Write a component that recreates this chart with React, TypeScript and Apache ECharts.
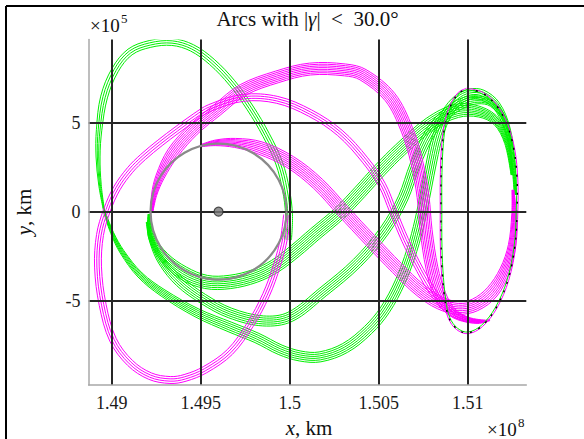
import React, { useEffect, useRef } from "react";
import * as echarts from "echarts";

type Pt = [number, number];

// x values in units of 1e5 km (axis shows them in 1e8 km), y values in 1e5 km
const xRange: Pt = [1488.7, 1513.29];
const yRange: Pt = [-9.74, 9.67];
const xTickValues = [1490, 1495, 1500, 1505, 1510];
const xTickLabels = ["1.49", "1.495", "1.5", "1.505", "1.51"];
const yTickValues = [-5, 0, 5];
const yTickLabels = ["-5", "0", "5"];

const earthPosition: Pt = [1496.0, 0];
const moonOrbitRadius = 3.82;

// magenta arcs
const magentaArcHigh: Pt[] = [
  [1492.26, -0.02], [1492.38, 0.94], [1492.71, 1.95], [1493.44, 3.3], [1494.57, 4.59],
  [1495.92, 5.71], [1497.38, 6.84], [1499.29, 7.57], [1501.14, 8.01], [1503.11, 7.96],
  [1504.12, 7.69], [1505.63, 6.44], [1506.59, 4.59], [1507.15, 2.74], [1507.49, 0.83],
  [1507.66, -1.03], [1507.99, -3.17], [1508.44, -4.68], [1509.12, -5.64], [1510.02, -6.08],
  [1510.97, -6.15],
];
const magentaArcLoop: Pt[] = [
  [1499.85, -0.19], [1499.68, -1.48], [1499.29, -2.99], [1498.67, -4.68], [1497.77, -6.36],
  [1496.64, -7.88], [1495.24, -8.88], [1494.12, -9.34], [1493.28, -9.46], [1492.15, -9.24],
  [1491.03, -8.5], [1490.07, -7.2], [1489.49, -5.24], [1489.23, -3.11], [1489.34, -1.31],
  [1489.74, 0.1], [1490.3, 1.33], [1491.03, 2.34], [1491.76, 3.07], [1492.71, 3.86],
  [1493.67, 4.59], [1494.68, 5.32], [1495.52, 5.83], [1497.38, 6.39], [1499.29, 6.28],
  [1501.14, 5.54], [1502.82, 4.42], [1504.23, 2.9], [1505.19, 1.5], [1505.8, 0.04],
  [1506.48, -1.59], [1507.32, -3.28], [1508.16, -4.68], [1508.89, -5.52], [1509.68, -5.97],
  [1510.58, -6.2], [1511.25, -6.09],
];
const magentaArcLow: Pt[] = [
  [1494.96, 3.69], [1495.8, 3.86], [1496.93, 3.86], [1498.33, 3.58], [1500.02, 2.79],
  [1501.59, 1.56], [1502.99, 0.04], [1504.51, -1.59], [1506.03, -3.17], [1507.32, -4.4],
  [1508.44, -5.13], [1509.46, -5.41], [1510.41, -5.24], [1511.37, -4.51], [1512.09, -3.28],
  [1512.49, -1.87], [1512.6, -0.19], [1512.54, 1.22],
];

// green arcs
const greenLoopTop: Pt[] = [
  [1499.9, -1.59], [1499.96, -0.19], [1499.79, 1.22], [1499.4, 2.74], [1498.67, 4.31],
  [1497.77, 5.83], [1496.76, 7.23], [1495.63, 8.41], [1494.51, 9.2], [1493.39, 9.53],
  [1492.15, 9.42], [1491.03, 8.97], [1490.19, 7.96], [1489.57, 6.44], [1489.29, 4.59],
  [1489.23, 3.07], [1489.34, 1.5], [1489.57, 0.04],
];
const greenLoopBottom: Pt[] = [
  [1489.57, 0.04], [1490.02, -1.19], [1490.58, -2.26], [1491.59, -3.56], [1492.88, -4.57],
  [1494.79, -5.69], [1496.64, -6.48], [1498.16, -7.1], [1499.46, -7.76], [1500.58, -8.11],
  [1501.7, -8.16], [1503.11, -7.66], [1504.4, -6.65], [1505.35, -5.52], [1506.2, -3.95],
  [1506.87, -2.15], [1507.32, -0.47], [1507.66, 1.22], [1507.99, 2.9], [1508.33, 4.31],
  [1508.84, 5.54], [1509.46, 6.28], [1510.13, 6.61], [1510.8, 6.56], [1511.59, 5.99],
  [1512.21, 4.7], [1512.54, 2.9], [1512.66, 0.94],
];
const greenArcLow: Pt[] = [
  [1491.98, -0.58], [1492.26, -1.7], [1492.83, -2.83], [1493.84, -3.95], [1495.13, -4.9],
  [1496.64, -5.69], [1498.5, -6.14], [1500.02, -5.91], [1501.87, -4.51], [1503.78, -2.88],
  [1505.35, -1.03], [1506.37, 0.77], [1507.04, 2.62], [1507.88, 4.42], [1508.84, 5.54],
  [1509.74, 6.11], [1510.58, 6.28], [1511.37, 6.05], [1512.09, 5.15], [1512.49, 3.75],
];
const greenArcHug: Pt[] = [
  [1492.1, -0.13], [1492.21, -1.37], [1492.94, -2.54], [1494.01, -3.44], [1495.3, -3.95],
  [1496.64, -3.95], [1498.05, -3.61], [1499.17, -3.06], [1500.3, -2.21], [1501.42, -1.25],
  [1502.82, -0.07], [1503.95, 1.11], [1505.07, 2.34], [1506.2, 3.47], [1507.88, 4.93],
  [1509.4, 5.66], [1510.69, 5.6], [1511.64, 5.04], [1512.21, 3.86], [1512.49, 2.06],
];

// halo orbit near L2
const haloOrbit: Pt[] = [
  [1509.96, 6.89], [1510.8, 6.67], [1511.59, 5.99], [1512.21, 4.87], [1512.6, 3.47],
  [1512.77, 1.78], [1512.77, 0.04], [1512.66, -1.87], [1512.26, -3.84], [1511.59, -5.41],
  [1510.8, -6.42], [1510.02, -6.81], [1509.4, -6.59], [1508.95, -5.97], [1508.72, -4.96],
  [1508.56, -3.28], [1508.5, -1.59], [1508.5, 0.04], [1508.5, 1.78], [1508.56, 3.47],
  [1508.72, 4.87], [1509.06, 5.99], [1509.51, 6.67], [1509.96, 6.89],
];

const GREEN = "#00f000";
const MAGENTA = "#ff00ff";
const FONT = '"Liberation Serif", "Times New Roman", serif';

type BundleStyle = {
  colors: string[];
  strands: number;
  gap: number;
  taperStart: number;
  taperEnd: number;
  width?: number;
  dash?: number[];
};

function bundleSeries(points: Pt[], st: BundleStyle, z: number) {
  return {
    type: "custom",
    coordinateSystem: "cartesian2d",
    data: [points[0]],
    clip: true,
    silent: true,
    z,
    renderItem: (_params: any, api: any) => {
      const pts: number[][] = points.map((p) => api.coord(p));
      const n = pts.length;
      const children: any[] = [];
      for (let k = 0; k < st.strands; k++) {
        const off = (k - (st.strands - 1) / 2) * st.gap;
        const line = pts.map((p, i) => {
          const a = pts[Math.max(0, i - 1)];
          const b = pts[Math.min(n - 1, i + 1)];
          const tx = b[0] - a[0];
          const ty = b[1] - a[1];
          const len = Math.hypot(tx, ty) || 1;
          let f = 1;
          if (st.taperStart > 0 && i < st.taperStart) f = Math.min(f, 0.15 + (0.85 * i) / st.taperStart);
          if (st.taperEnd > 0 && i > n - 1 - st.taperEnd)
            f = Math.min(f, 0.15 + (0.85 * (n - 1 - i)) / st.taperEnd);
          return [p[0] - (ty / len) * off * f, p[1] + (tx / len) * off * f];
        });
        const style: any = {
          stroke: st.colors[k % st.colors.length],
          lineWidth: st.width ?? 1,
          fill: "none",
        };
        if (st.dash) style.lineDash = st.dash;
        children.push({ type: "polyline", shape: { points: line, smooth: 0.35 }, style, silent: true });
      }
      return { type: "group", children };
    },
  };
}

function buildOption() {
  const xLabel = (v: number) => {
    const i = xTickValues.findIndex((t) => Math.abs(t - v) < 1e-6);
    return i >= 0 ? xTickLabels[i] : "";
  };
  const yLabel = (v: number) => {
    const i = yTickValues.findIndex((t) => Math.abs(t - v) < 1e-6);
    return i >= 0 ? yTickLabels[i] : "";
  };
  const axisCommon = {
    type: "value",
    minInterval: 5,
    maxInterval: 5,
    z: 10,
    axisLine: { show: true, onZero: false, lineStyle: { color: "#a8a8a8", width: 1.5 } },
    axisTick: { show: false },
    splitLine: {
      show: true,
      showMinLine: false,
      showMaxLine: false,
      lineStyle: { color: "#262626", width: 2 },
    },
  };
  return {
    animation: false,
    backgroundColor: "#ffffff",
    grid: {
      left: 88.6,
      top: 39.5,
      width: 437.7,
      height: 345.5,
      containLabel: false,
      outerBoundsMode: "none",
    },
    xAxis: {
      ...axisCommon,
      min: xRange[0],
      max: xRange[1],
      axisLabel: {
        showMinLabel: false,
        showMaxLabel: false,
        margin: 9,
        fontFamily: FONT,
        fontSize: 18,
        color: "#1a1a1a",
        formatter: xLabel,
      },
    },
    yAxis: {
      ...axisCommon,
      min: yRange[0],
      max: yRange[1],
      axisLabel: {
        showMinLabel: false,
        showMaxLabel: false,
        margin: 8,
        fontFamily: FONT,
        fontSize: 18,
        color: "#1a1a1a",
        formatter: yLabel,
      },
    },
    series: [
      bundleSeries(greenLoopTop, { colors: [GREEN], strands: 4, gap: 2.3, taperStart: 0, taperEnd: 4 }, 2),
      bundleSeries(greenLoopBottom, { colors: [GREEN], strands: 6, gap: 2, taperStart: 6, taperEnd: 4 }, 2),
      bundleSeries(greenArcLow, { colors: [GREEN], strands: 6, gap: 2, taperStart: 3, taperEnd: 4 }, 2),
      bundleSeries(greenArcHug, { colors: [GREEN], strands: 8, gap: 1.9, taperStart: 3, taperEnd: 4 }, 2),
      bundleSeries(magentaArcHigh, { colors: [MAGENTA], strands: 8, gap: 1.7, taperStart: 3, taperEnd: 3 }, 3),
      bundleSeries(magentaArcLoop, { colors: [MAGENTA], strands: 4, gap: 2.3, taperStart: 0, taperEnd: 3 }, 3),
      bundleSeries(magentaArcLow, { colors: [MAGENTA], strands: 8, gap: 1.8, taperStart: 3, taperEnd: 4 }, 3),
      bundleSeries(haloOrbit, { colors: [MAGENTA, GREEN], strands: 2, gap: 1.6, taperStart: 0, taperEnd: 0 }, 4),
      bundleSeries(haloOrbit, { colors: ["#000000"], strands: 1, gap: 0, taperStart: 0, taperEnd: 0, width: 1.4, dash: [2, 7] }, 5),
      {
        type: "custom",
        coordinateSystem: "cartesian2d",
        data: [earthPosition],
        silent: true,
        z: 11,
        renderItem: (_p: any, api: any) => {
          const c = api.coord(earthPosition);
          const r = api.size([moonOrbitRadius, 0])[0];
          return {
            type: "circle",
            shape: { cx: c[0], cy: c[1], r },
            style: { fill: "none", stroke: "#8a8a8a", lineWidth: 2.2 },
          };
        },
      },
      {
        type: "scatter",
        data: [earthPosition],
        symbol: "circle",
        symbolSize: 9,
        silent: true,
        z: 12,
        itemStyle: { color: "#7a7a7a", borderColor: "#2a2a2a", borderWidth: 1.2 },
      },
    ],
    graphic: [
      { type: "line", z: 20, shape: { x1: 6, y1: 6, x2: 584, y2: 6 }, style: { stroke: "#000", lineWidth: 2 } },
      { type: "line", z: 20, shape: { x1: 6, y1: 6, x2: 6, y2: 439 }, style: { stroke: "#000", lineWidth: 2 } },
      {
        type: "text",
        z: 20,
        x: 307.5,
        y: 19,
        style: {
          text: "Arcs with |{i|γ}|  <  30.0°",
          fontFamily: FONT,
          fontSize: 21,
          fill: "#111",
          align: "center",
          verticalAlign: "middle",
          textAlign: "center",
          textVerticalAlign: "middle",
          rich: { i: { fontFamily: FONT, fontSize: 21, fontStyle: "italic", fill: "#111" } },
        },
      },
      {
        type: "text",
        z: 20,
        x: 90,
        y: 25,
        style: { text: "×10", fontFamily: FONT, fontSize: 19, fill: "#111", align: "left", verticalAlign: "middle", textAlign: "left", textVerticalAlign: "middle" },
      },
      {
        type: "text",
        z: 20,
        x: 121,
        y: 18,
        style: { text: "5", fontFamily: FONT, fontSize: 13, fill: "#111", align: "left", verticalAlign: "middle", textAlign: "left", textVerticalAlign: "middle" },
      },
      {
        type: "text",
        z: 20,
        x: 309,
        y: 428,
        style: {
          text: "{i|x}, km",
          fontFamily: FONT,
          fontSize: 21,
          fill: "#111",
          align: "center",
          verticalAlign: "middle",
          textAlign: "center",
          textVerticalAlign: "middle",
          rich: { i: { fontFamily: FONT, fontSize: 21, fontStyle: "italic", fill: "#111" } },
        },
      },
      {
        type: "text",
        z: 20,
        x: 487,
        y: 429,
        style: { text: "×10", fontFamily: FONT, fontSize: 19, fill: "#111", align: "left", verticalAlign: "middle", textAlign: "left", textVerticalAlign: "middle" },
      },
      {
        type: "text",
        z: 20,
        x: 518,
        y: 422,
        style: { text: "8", fontFamily: FONT, fontSize: 13, fill: "#111", align: "left", verticalAlign: "middle", textAlign: "left", textVerticalAlign: "middle" },
      },
      {
        type: "text",
        z: 20,
        x: 24,
        y: 212,
        rotation: Math.PI / 2,
        style: {
          text: "{i|y}, km",
          fontFamily: FONT,
          fontSize: 21,
          fill: "#111",
          align: "center",
          verticalAlign: "middle",
          textAlign: "center",
          textVerticalAlign: "middle",
          rich: { i: { fontFamily: FONT, fontSize: 21, fontStyle: "italic", fill: "#111" } },
        },
      },
    ],
  };
}

export default function App() {
  const ref = useRef<HTMLDivElement>(null);
  useEffect(() => {
    document.body.style.margin = "0";
    const chart = echarts.init(ref.current!, null, { renderer: "svg" });
    chart.setOption(buildOption() as any);
    return () => chart.dispose();
  }, []);
  return <div ref={ref} style={{ width: 584, height: 439 }} />;
}
